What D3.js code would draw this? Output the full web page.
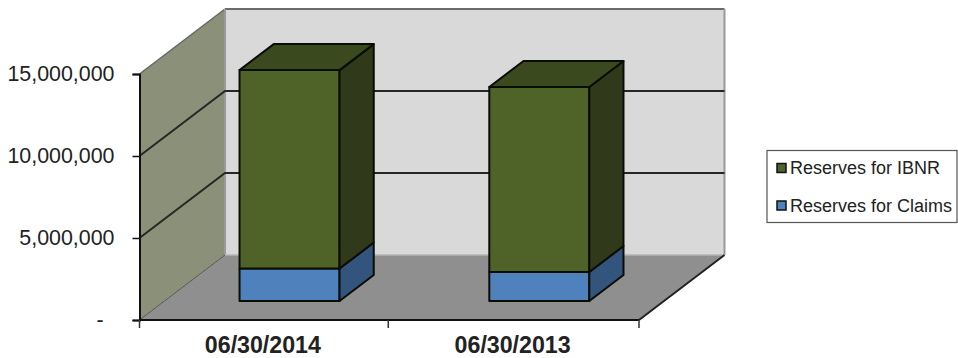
<!DOCTYPE html>
<html><head><meta charset="utf-8">
<script src="https://cdnjs.cloudflare.com/ajax/libs/d3/7.8.5/d3.min.js"></script>
<style>html,body{margin:0;padding:0;background:#fff}svg{display:block}text{font-family:"Liberation Sans",Arial,sans-serif}</style>
</head><body><div id="c"></div>
<script>
const categories = ["06/30/2014", "06/30/2013"];
const reservesForClaims = [1980000, 1770000];
const reservesForIBNR = [12100000, 11280000];
const yTicks = [0, 5000000, 10000000, 15000000];
const seriesNames = ["Reserves for IBNR", "Reserves for Claims"];

const W = 958, H = 358;
const svg = d3.select("#c").append("svg").attr("width", W).attr("height", H);
const x = d3.scaleBand().domain(categories).range([139.5, 639]).paddingInner(0).paddingOuter(0);
const y = d3.scaleLinear().domain([0, 15000000]).range([320, 74]);
const zx = d3.scaleLinear().domain([0, 1]).range([0, 85.5]);
const zy = d3.scaleLinear().domain([0, 1]).range([0, -65]);
const P = (px, v, z) => [px + zx(z), y(v) + zy(z)];
const line = d3.line();
const poly = (pts, fill, stroke, sw) => svg.append("path").attr("d", line(pts) + "Z").attr("fill", fill)
  .attr("stroke", stroke || "none").attr("stroke-width", sw || 0).attr("stroke-linejoin", "round");

const xL = x.range()[0], xR = x.range()[1], yMax = 15000000;
// walls
poly([P(xL,0,1), P(xR,0,1), P(xR,yMax,1), P(xL,yMax,1)], "#d9d9d9");
poly([P(xL,0,0), P(xL,0,1), P(xL,yMax,1), P(xL,yMax,0)], "#8b9179");
poly([P(xL,0,0), P(xR,0,0), P(xR,0,1), P(xL,0,1)], "#8f8f8f");
// wall edges
const edge = (a, b, c, w) => svg.append("path").attr("d", line([a, b])).attr("stroke", c).attr("stroke-width", w).attr("fill", "none");
edge(P(xL,yMax,0), P(xL,yMax,1), "#666", 1.5);
edge(P(xL,yMax,1), P(xR,yMax,1), "#6a6a6a", 2);
edge(P(xR,yMax,1), P(xR,0,1), "#999", 2);
edge(P(xL,yMax,1), P(xL,0,1), "#999", 2);
edge(P(xL,0,1), P(xR,0,1), "#b5b5b5", 1.5);
edge(P(xR,0,1), P(xR,0,0), "#222", 2);
edge(P(xL,0,0), P(xL,0,1), "#555", 1);
// gridlines
yTicks.filter(t => t > 0 && t < yMax).forEach(t => {
  svg.append("path").attr("d", line([P(xL,t,0), P(xL,t,1), P(xR,t,1)]))
    .attr("fill", "none").attr("stroke", "#262626").attr("stroke-width", 2);
});
// bars
const barW = 100, z0 = 0.292, z1 = 0.692;
const box = (cat, v0, v1, front, side, topc) => {
  const xa = x(cat) + (x.bandwidth() - barW) / 2 + 0.2, xb = xa + barW;
  poly([P(xa,v0,z0), P(xb,v0,z0), P(xb,v1,z0), P(xa,v1,z0)], front, "#0a0d06", 2);
  poly([P(xb,v0,z0), P(xb,v0,z1), P(xb,v1,z1), P(xb,v1,z0)], side, "#0a0d06", 2);
  if (topc) poly([P(xa,v1,z0), P(xb,v1,z0), P(xb,v1,z1), P(xa,v1,z1)], topc, "#0a0d06", 2);
};
categories.forEach((c, i) => {
  const a = reservesForClaims[i], b = a + reservesForIBNR[i];
  box(c, 0, a, "#4f81bd", "#33547c", null);
  box(c, a, b, "#4f6228", "#30391a", "#3b4a1e");
});
// axes
const fmt = d => d === 0 ? "-" : d3.format(",")(d);
const ay = svg.append("g").attr("transform", `translate(${xL},0)`)
  .call(d3.axisLeft(y).tickValues(yTicks).tickFormat(fmt).tickSize(7).tickPadding(18));
ay.selectAll("path").attr("stroke", "#111").attr("stroke-width", 2);
ay.selectAll("line").attr("stroke", "#111").attr("stroke-width", 1.5);
ay.selectAll("text").attr("font-size", 21.4).attr("fill", "#222").attr("font-family", "Liberation Sans")
  .attr("dx", d => d === 0 ? -11 : 0).attr("dy", "0.3em");
const ax = svg.append("g").attr("transform", "translate(0,320)")
  .call(d3.axisBottom(x).tickSize(0).tickPadding(16.5));
ax.selectAll("path").attr("stroke", "#111").attr("stroke-width", 2).attr("d", `M${xL},0H${xR}`);
ax.selectAll("text").attr("font-size", 23.2).attr("font-weight", "bold").attr("fill", "#222").attr("font-family", "Liberation Sans").attr("dx", -1.5);
[xL, x(categories[1]) - 1, xR].forEach(px => {
  ax.append("line").attr("x1", px).attr("x2", px).attr("y1", 0).attr("y2", 8).attr("stroke", "#333").attr("stroke-width", 1.5);
});
// legend
const lg = svg.append("g");
lg.append("rect").attr("x", 767).attr("y", 150.5).attr("width", 190).attr("height", 72).attr("fill", "#fff").attr("stroke", "#555").attr("stroke-width", 1.2);
const swatch = ["#4f6228", "#4f81bd"];
seriesNames.forEach((n, i) => {
  const cy = 168 + i * 37.5;
  lg.append("rect").attr("x", 777).attr("y", cy - 4.5).attr("width", 9).attr("height", 9).attr("fill", swatch[i]).attr("stroke", "#111").attr("stroke-width", 1.5);
  lg.append("text").attr("x", 790).attr("y", cy + 6).attr("font-size", 18).attr("fill", "#222").text(n);
});
</script></body></html>
